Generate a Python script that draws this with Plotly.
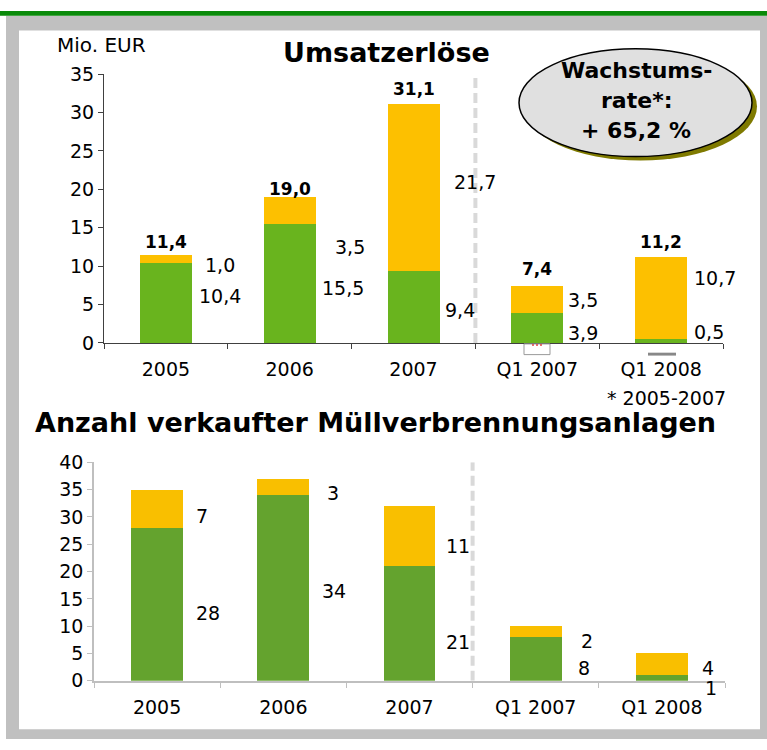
import plotly.graph_objects as go

# ---------------- data ----------------
categories = ["2005", "2006", "2007", "Q1 2007", "Q1 2008"]

# Umsatzerlöse (Mio. EUR)
rev_green = [10.4, 15.5, 9.4, 3.9, 0.5]
rev_orange = [1.0, 3.5, 21.7, 3.5, 10.7]
rev_total = [11.4, 19.0, 31.1, 7.4, 11.2]

# Anzahl verkaufter Müllverbrennungsanlagen
units_green = [28, 34, 21, 8, 1]
units_orange = [7, 3, 11, 2, 4]

growth_lines = ["Wachstums-", "rate*:", "+ 65,2 %"]

# ---------------- label placement (styling) ----------------
rev_green_lab_y = [6.1, 7.2, 4.3, 1.3, 1.4]
rev_orange_lab_y = [10.1, 12.5, 21.0, 5.6, 8.5]
rev_total_lab_y = [13.1, 20.0, 33.0, 9.6, 13.1]
rev_green_dx = [5, 4, 3, 3, 5]
rev_orange_dx = [11, 17, 12, 3, 5]

units_green_lab_y = [12.4, 16.4, 7.1, 2.3, -1.2]
units_orange_lab_y = [30.2, 34.3, 24.7, 7.3, 2.3]
units_green_dx = [11, 11, 8, 14, 15]
units_orange_dx = [11, 16, 8, 17, 12]

W, H = 767, 750
FONT = "DejaVu Sans"
GREEN_TOP, ORANGE_TOP = "#69b41e", "#fdc000"
GREEN_BOT, ORANGE_BOT = "#64a32e", "#f9bf00"
BOT_PX_PER_UNIT = (690 - 465) / 40


def fmt(v, dec=1):
    return f"{v:.{dec}f}".replace(".", ",")


def px(x):
    return x / W


def py(y):
    return 1 - y / H


fig = go.Figure()

bar_common = dict(hoverinfo="skip", marker_line_width=0)
fig.add_trace(go.Bar(x=categories, y=rev_green, marker_color=GREEN_TOP, width=0.42,
                     xaxis="x", yaxis="y", **bar_common))
fig.add_trace(go.Bar(x=categories, y=rev_orange, marker_color=ORANGE_TOP, width=0.42,
                     xaxis="x", yaxis="y", **bar_common))
fig.add_trace(go.Bar(x=categories, y=units_green, marker_color=GREEN_BOT, width=0.41,
                     xaxis="x2", yaxis="y2", **bar_common))
fig.add_trace(go.Bar(x=categories, y=units_orange, marker_color=ORANGE_BOT, width=0.41,
                     xaxis="x2", yaxis="y2", **bar_common))

ann = []
lab_font = dict(family=FONT, size=19, color="black")
for i, c in enumerate(categories):
    # category axes: annotations positioned by category index
    ann.append(dict(x=i, y=rev_green_lab_y[i], xref="x", yref="y", text=fmt(rev_green[i]),
                    showarrow=False, xanchor="left", xshift=26 + rev_green_dx[i], font=lab_font))
    ann.append(dict(x=i, y=rev_orange_lab_y[i], xref="x", yref="y", text=fmt(rev_orange[i]),
                    showarrow=False, xanchor="left", xshift=26 + rev_orange_dx[i], font=lab_font))
    ann.append(dict(x=i, y=rev_total_lab_y[i], xref="x", yref="y", text="<b>" + fmt(rev_total[i]) + "</b>",
                    showarrow=False, xanchor="center", font=dict(family=FONT, size=17, color="black")))
    gy = units_green_lab_y[i]
    ann.append(dict(x=i, y=max(gy, 0), xref="x2", yref="y2", text=str(units_green[i]),
                    showarrow=False, xanchor="left", xshift=26 + units_green_dx[i],
                    yshift=min(gy, 0) * BOT_PX_PER_UNIT, font=lab_font))
    ann.append(dict(x=i, y=units_orange_lab_y[i], xref="x2", yref="y2", text=str(units_orange[i]),
                    showarrow=False, xanchor="left", xshift=26 + units_orange_dx[i], font=lab_font))

# titles and notes
ann.append(dict(x=px(386), y=py(43), xref="paper", yref="paper", text="<b>Umsatzerlöse</b>",
                showarrow=False, xanchor="center", yanchor="middle",
                font=dict(family=FONT, size=27, color="black")))
ann.append(dict(x=px(375), y=py(424), xref="paper", yref="paper",
                text="<b>Anzahl verkaufter Müllverbrennungsanlagen</b>",
                showarrow=False, xanchor="center", yanchor="middle",
                font=dict(family=FONT, size=27, color="black")))
ann.append(dict(x=px(55), y=py(35), xref="paper", yref="paper", text="Mio. EUR",
                showarrow=False, xanchor="left", yanchor="middle",
                font=dict(family=FONT, size=20, color="black")))
ann.append(dict(x=px(728), y=py(399), xref="paper", yref="paper", text="* 2005-2007",
                showarrow=False, xanchor="right", yanchor="middle",
                font=dict(family=FONT, size=19, color="black")))
for i, (t, yy) in enumerate(zip(growth_lines, [61, 92, 123])):
    ann.append(dict(x=px(636), y=py(yy), xref="paper", yref="paper", text="<b>" + t + "</b>",
                    showarrow=False, xanchor="center", yanchor="middle",
                    font=dict(family=FONT, size=22, color="black")))

shapes = [
    # frame
    dict(type="rect", xref="paper", yref="paper", x0=px(6), x1=px(767), y0=py(750), y1=py(5),
         fillcolor="#c0c0c0", line=dict(width=0), layer="below"),
    dict(type="rect", xref="paper", yref="paper", x0=px(19), x1=px(760), y0=py(740), y1=py(20),
         fillcolor="white", line=dict(width=0), layer="below"),
    dict(type="rect", xref="paper", yref="paper", x0=0, x1=1, y0=py(5), y1=1,
         fillcolor="#0a8a0a", line=dict(width=0), layer="below"),
    # dashed separators
    dict(type="line", xref="x", yref="y", x0=2.5, x1=2.5, y0=0, y1=34.6,
         line=dict(color="#d9d9d9", width=4, dash="10px,5px"), layer="below"),
    dict(type="line", xref="x2", yref="y2", x0=2.5, x1=2.5, y0=0, y1=40,
         line=dict(color="#d9d9d9", width=4, dash="10px,5px"), layer="below"),
    # small artefacts under the top x labels
    dict(type="rect", xref="paper", yref="paper", x0=px(524), x1=px(550), y0=py(354), y1=py(343),
         fillcolor="white", line=dict(color="#999999", width=1)),
    dict(type="line", xref="paper", yref="paper", x0=px(532), x1=px(542), y0=py(344), y1=py(344),
         line=dict(color="#e04040", width=1.5, dash="2px,2px")),
    dict(type="rect", xref="paper", yref="paper", x0=px(648), x1=px(676), y0=py(355), y1=py(352),
         fillcolor="#888888", line=dict(width=0)),
    # growth ellipse with shadow
    dict(type="circle", xref="paper", yref="paper", x0=px(524), x1=px(757), y0=py(154), y1=py(43),
         fillcolor="#7f7a00", line=dict(width=0)),
    dict(type="circle", xref="paper", yref="paper", x0=px(519), x1=px(752), y0=py(150), y1=py(39),
         fillcolor="#e0e0e0", line=dict(color="black", width=1.5)),
]

tick_font = dict(family=FONT, size=19, color="black")
fig.update_layout(
    width=W, height=H, autosize=False,
    margin=dict(l=0, r=0, t=0, b=0),
    paper_bgcolor="white", plot_bgcolor="rgba(0,0,0,0)",
    barmode="stack", showlegend=False,
    annotations=ann, shapes=shapes,
    xaxis=dict(domain=[px(104), px(723)], anchor="y", type="category", range=[-0.5, 4.5],
               showline=True, linecolor="#404040", linewidth=1, ticks="outside", ticklen=5,
               tickcolor="#404040", tickson="boundaries", showgrid=False, tickfont=tick_font,
               ticklabelstandoff=9, fixedrange=True),
    yaxis=dict(domain=[py(342), py(65)], anchor="x", range=[0, 35], dtick=5,
               showline=True, linecolor="#404040", linewidth=1, ticks="outside", ticklen=5,
               tickcolor="#404040", showgrid=False, zeroline=False, tickfont=tick_font,
               fixedrange=True),
    xaxis2=dict(domain=[px(94), px(725)], anchor="y2", type="category", range=[-0.5, 4.5],
                showline=True, linecolor="#bfbfbf", linewidth=1.5, ticks="outside", ticklen=5,
                tickcolor="#bfbfbf", tickson="boundaries", showgrid=False, tickfont=tick_font,
                ticklabelstandoff=9, fixedrange=True),
    yaxis2=dict(domain=[py(690), py(465)], anchor="x2", range=[0, 40], dtick=5,
                showline=True, linecolor="#bfbfbf", linewidth=1.5, ticks="outside", ticklen=5,
                tickcolor="#bfbfbf", showgrid=False, zeroline=False, tickfont=tick_font,
                fixedrange=True),
)

post = (
    "document.documentElement.style.margin='0';"
    "document.documentElement.style.padding='0';"
    "document.body.style.margin='0';document.body.style.padding='0';"
    "document.body.style.overflow='hidden';"
    "var d=document.getElementById('{plot_id}');"
    "d.style.position='absolute';d.style.top='0px';d.style.left='0px';"
)
fig.write_html("out.html", config={"displayModeBar": False}, post_script=post)
